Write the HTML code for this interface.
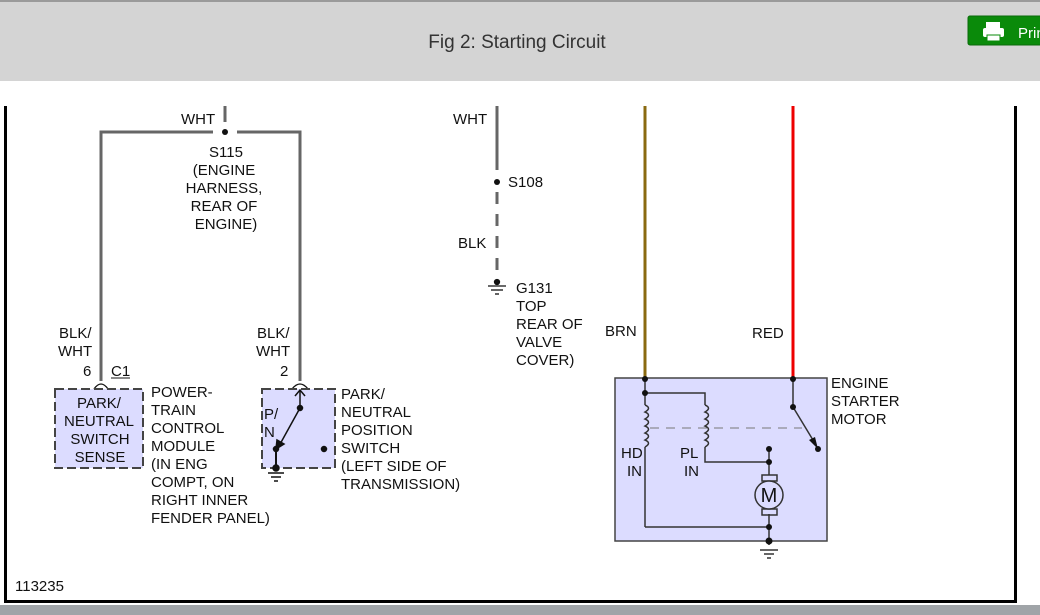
<!DOCTYPE html>
<html><head><meta charset="utf-8"><style>
html,body{margin:0;padding:0;width:1040px;height:615px;overflow:hidden;background:#fff;font-family:"Liberation Sans",Arial,sans-serif}
</style></head><body>
<svg width="1040" height="615" viewBox="0 0 1040 615" xmlns="http://www.w3.org/2000/svg" font-family="Liberation Sans, Arial, sans-serif">
<rect x="0" y="0" width="1040" height="81" fill="#d4d4d4"/>
<rect x="0" y="0" width="1040" height="2" fill="#9a9a9a"/>
<text x="517" y="48" font-size="19" fill="#333" text-anchor="middle">Fig 2: Starting Circuit</text>
<rect x="968" y="16" width="80" height="29" rx="2" fill="#0a8a0a" stroke="#0a6a0a"/>
<rect x="986" y="22" width="14" height="7" fill="#fff"/>
<rect x="983" y="28" width="21" height="9" rx="2" fill="#fff"/>
<rect x="987" y="35" width="13" height="6" fill="#fff" stroke="#0a8a0a" stroke-width="1"/>
<text x="1018" y="38" font-size="15" fill="#fff">Print</text>
<rect x="0" y="605" width="1040" height="10" fill="#a0a4a8"/>
<rect x="4" y="106" width="3" height="497" fill="#000"/>
<rect x="1014" y="106" width="3" height="497" fill="#000"/>
<rect x="4" y="600" width="1013" height="3" fill="#000"/>
<text x="15" y="591" font-size="15" fill="#111">113235</text>

<g stroke="#666" stroke-width="3" fill="none">
<line x1="225" y1="106" x2="225" y2="122"/>
<polyline points="213,132 101,132 101,381"/>
<polyline points="237,132 300,132 300,381"/>
<line x1="497" y1="106" x2="497" y2="170"/>
<line x1="497" y1="192" x2="497" y2="282" stroke-dasharray="12,10"/>
</g>
<circle cx="225" cy="132" r="3" fill="#111"/>
<circle cx="497" cy="182" r="3" fill="#111"/>
<g font-size="15" fill="#111">
<text x="181" y="124">WHT</text>
<g text-anchor="middle"><text x="226" y="157">S115</text><text x="224" y="175">(ENGINE</text><text x="224" y="193">HARNESS,</text><text x="224" y="211">REAR OF</text><text x="226" y="229">ENGINE)</text></g>
<text x="59" y="338">BLK/</text><text x="58" y="356">WHT</text>
<text x="83" y="376">6</text><text x="111" y="376">C1</text>
<text x="257" y="338">BLK/</text><text x="256" y="356">WHT</text>
<text x="280" y="376">2</text>
<text x="453" y="124">WHT</text><text x="508" y="187">S108</text><text x="458" y="248">BLK</text>
<text x="516" y="293">G131</text><text x="516" y="311">TOP</text><text x="516" y="329">REAR OF</text><text x="516" y="347">VALVE</text><text x="516" y="365">COVER)</text>
<text x="605" y="336">BRN</text><text x="752" y="338">RED</text>
<text x="151" y="397">POWER-</text><text x="151" y="415">TRAIN</text><text x="151" y="433">CONTROL</text><text x="151" y="451">MODULE</text><text x="151" y="469">(IN ENG</text><text x="151" y="487">COMPT, ON</text><text x="151" y="505">RIGHT INNER</text><text x="151" y="523">FENDER PANEL)</text>
<text x="341" y="399">PARK/</text><text x="341" y="417">NEUTRAL</text><text x="341" y="435">POSITION</text><text x="341" y="453">SWITCH</text><text x="341" y="471">(LEFT SIDE OF</text><text x="341" y="489">TRANSMISSION)</text>
<text x="831" y="388">ENGINE</text><text x="831" y="406">STARTER</text><text x="831" y="424">MOTOR</text>
</g>
<line x1="111" y1="378" x2="130" y2="378" stroke="#111" stroke-width="1"/>
<g stroke="#111" stroke-width="1.3"><circle cx="497" cy="282" r="2.5" fill="#111"/><line x1="488" y1="286" x2="506" y2="286"/><line x1="491" y1="290" x2="503" y2="290"/><line x1="495" y1="294" x2="499" y2="294"/></g>
<path d="M94,389 Q101,379 108,389" fill="none" stroke="#111" stroke-width="1.3"/>
<path d="M292,389 Q300,379 308,389" fill="none" stroke="#111" stroke-width="1.3"/>
<rect x="55" y="389" width="88" height="79" fill="#dcdcff" stroke="#444" stroke-width="2" stroke-dasharray="9,4"/>
<g font-size="15" fill="#111" text-anchor="middle"><text x="99" y="408">PARK/</text><text x="99" y="426">NEUTRAL</text><text x="100" y="444">SWITCH</text><text x="100" y="462">SENSE</text></g>
<rect x="262" y="389" width="73" height="79" fill="#dcdcff" stroke="#444" stroke-width="2" stroke-dasharray="9,4"/>
<g font-size="15" fill="#111"><text x="264" y="419">P/</text><text x="264" y="437">N</text></g>
<g stroke="#111" stroke-width="1.5" fill="#111">
<line x1="300" y1="391" x2="300" y2="408"/><polyline points="295,396 300,390 305,396" fill="none"/>
<circle cx="300" cy="408" r="2.5"/>
<line x1="300" y1="408" x2="279" y2="446"/><polygon points="276,449 277,440 284,444"/>
<circle cx="276" cy="449" r="2.5"/><line x1="276" y1="449" x2="276" y2="468" stroke-width="2"/>
<circle cx="276" cy="468" r="3"/><circle cx="324" cy="449" r="2.5"/>
<line x1="268" y1="473" x2="284" y2="473"/><line x1="271" y1="477" x2="281" y2="477"/><line x1="274" y1="481" x2="278" y2="481"/>
</g>
<line x1="645" y1="106" x2="645" y2="378" stroke="#8a6a10" stroke-width="3"/>
<line x1="793" y1="106" x2="793" y2="378" stroke="#ee0000" stroke-width="3"/>
<rect x="615" y="378" width="212" height="163" fill="#dcdcff" stroke="#444" stroke-width="1.5"/>
<line x1="650" y1="428" x2="802" y2="428" stroke="#777" stroke-width="1" stroke-dasharray="9,7"/>
<g stroke="#333" stroke-width="1.5" fill="none">
<line x1="645" y1="378" x2="645" y2="405"/>
<polyline points="645,393 705,393 705,405"/>
<path d="M645,405 q7,3 0,7 q7,3 0,7 q7,3 0,7 q7,3 0,7 q7,3 0,7 q7,3 0,7"/>
<line x1="645" y1="447" x2="645" y2="527"/>
<polyline points="645,527 769,527"/>
<path d="M705,405 q7,3 0,7 q7,3 0,7 q7,3 0,7 q7,3 0,7 q7,3 0,7 q7,3 0,7"/>
<polyline points="705,447 705,462 769,462"/>
<line x1="769" y1="449" x2="769" y2="475"/>
<line x1="769" y1="514" x2="769" y2="545"/>
<rect x="762" y="475" width="15" height="6"/>
<rect x="762" y="509" width="15" height="6"/>
<circle cx="769" cy="495" r="14" fill="#dcdcff"/>
<line x1="793" y1="378" x2="793" y2="407"/>
<line x1="793" y1="407" x2="816" y2="445"/>
<line x1="760" y1="550" x2="778" y2="550"/><line x1="764" y1="554" x2="774" y2="554"/><line x1="767" y1="558" x2="771" y2="558"/>
</g>
<text x="769" y="502" font-size="20" fill="#111" text-anchor="middle">M</text>
<g fill="#111">
<circle cx="645" cy="379" r="3"/><circle cx="645" cy="393" r="3"/><circle cx="793" cy="379" r="3"/><circle cx="793" cy="407" r="3"/>
<circle cx="818" cy="449" r="3"/><polygon points="818,449 809,440 815,437"/>
<circle cx="769" cy="449" r="3"/><circle cx="769" cy="462" r="3"/><circle cx="769" cy="527" r="3"/><circle cx="769" cy="541" r="3.5"/>
</g>
<g font-size="15" fill="#111"><text x="621" y="458">HD</text><text x="627" y="476">IN</text><text x="680" y="458">PL</text><text x="684" y="476">IN</text></g>
</svg>
</body></html>
